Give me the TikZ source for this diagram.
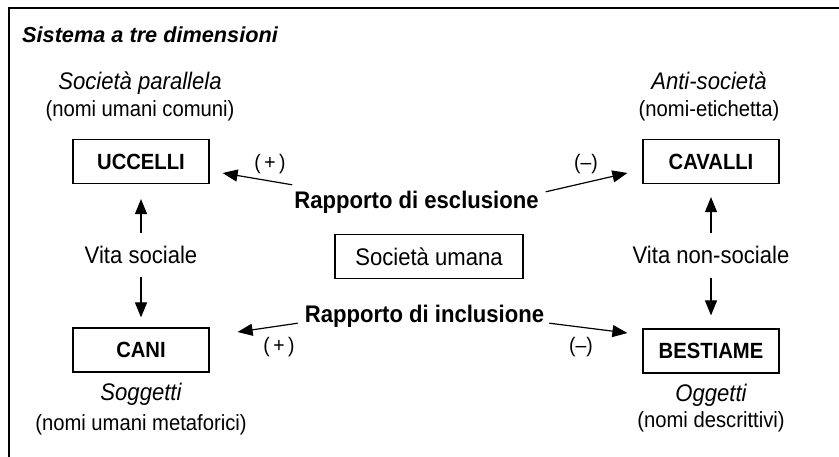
\documentclass[tikz,border=0pt]{standalone}
\usepackage{fontspec}
\setmainfont[FakeStretch=0.92]{Liberation Sans}
\newfontfamily\titlefont{Liberation Sans}
\usetikzlibrary{arrows.meta}
\begin{document}
\begin{tikzpicture}
		[x=1pt,y=-1pt,
		mybox/.style={draw,line width=1.2pt,minimum width=136pt,minimum height=44pt,inner sep=0pt,font=\fontsize{22}{26}\selectfont\bfseries},
		mytext/.style={inner sep=0pt,text height=17pt,text depth=5pt,anchor=base,font=\fontsize{24}{28}\selectfont},
		myhead/.style={mytext,font=\fontsize{24}{28}\selectfont\itshape},
		mynote/.style={mytext,font=\fontsize{22}{26}\selectfont},
		myrel/.style={mytext,font=\fontsize{24}{28}\selectfont\bfseries},
		mysign/.style={inner sep=0pt,font=\fontsize{21}{24}\selectfont},
		myarrow/.style={line width=1.2pt,-{Triangle[length=15pt,width=12pt]}}]
		\useasboundingbox (0,0) rectangle (839,457);
		\draw[line width=1.6pt] (839,8) -- (9,8) -- (9,457);
		\node[anchor=base west,inner sep=0pt,font=\titlefont\fontsize{21.7}{26}\selectfont\bfseries\itshape] (title) at (22,43) {Sistema a tre dimensioni};
		\node[mybox] (ucc) at (141,161.5) {UCCELLI};
		\node[mybox] (cav) at (711,161.5) {CAVALLI};
		\node[mybox] (cani) at (141,350) {CANI};
		\node[mybox] (bes) at (711,351) {BESTIAME};
		\node[mybox,minimum width=188pt,font=\fontsize{24}{28}\selectfont] (umana) at (429,256.5) {Società umana};
		\node[myhead] (par) at (140,90) {Società parallela};
		\node[mynote] (parn) at (140,117) {(nomi umani comuni)};
		\node[myhead] (anti) at (709,90) {Anti-società};
		\node[mynote] (antin) at (709,117) {(nomi-etichetta)};
		\node[myhead] (sog) at (141,401) {Soggetti};
		\node[mynote] (sogn) at (141,430) {(nomi umani metaforici)};
		\node[myhead] (ogg) at (711,402) {Oggetti};
		\node[mynote] (oggn) at (711,428) {(nomi descrittivi)};
		\node[mytext] (vs) at (141,264) {Vita sociale};
		\node[mytext] (vns) at (711,264) {Vita non-sociale};
		\node[myrel] (excl) at (416.5,209) {Rapporto di esclusione};
		\node[myrel] (incl) at (424.5,323) {Rapporto di inclusione};
		\node[mysign] (sa) at (270,164) {(\,+\,)};
		\node[mysign] (sb) at (586,164) {(--)};
		\node[mysign] (sc) at (279,347) {(\,+\,)};
		\node[mysign] (sd) at (581,347) {(--)};
		\draw[myarrow,shorten <=14pt,shorten >=15pt] (vs) -- (ucc);
		\draw[myarrow,shorten <=8pt,shorten >=10pt] (vs) -- (cani);
		\draw[myarrow,shorten <=14pt,shorten >=13pt] (vns) -- (cav);
		\draw[myarrow,shorten <=9pt,shorten >=13pt] (vns) -- (bes);
		\draw[myarrow] ([shift={(-2,-7)}]excl.north west) -- ([shift={(13,11.5)}]ucc.east);
		\draw[myarrow] ([shift={(7,0)}]excl.north east) -- ([shift={(-15,11.5)}]cav.west);
		\draw[myarrow] ([shift={(-7,-5)}]incl.south west) -- ([shift={(28,-18)}]cani.east);
		\draw[myarrow] ([shift={(5,-5)}]incl.south east) -- ([shift={(-15,-18)}]bes.west);
	\end{tikzpicture}
\end{document}
